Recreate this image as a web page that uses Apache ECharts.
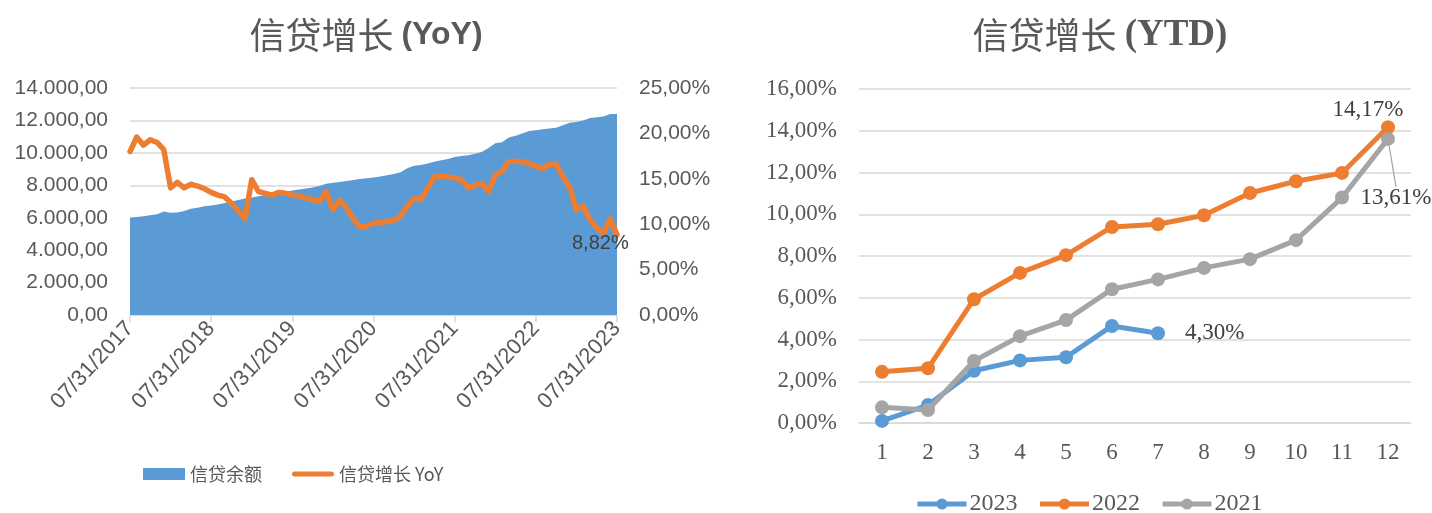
<!DOCTYPE html>
<html>
<head>
<meta charset="utf-8">
<script src="https://cdn.jsdelivr.net/npm/echarts@6/dist/echarts.min.js"></script>
<style>html,body{margin:0;padding:0;background:#fff}#c{width:1432px;height:513px}</style>
</head>
<body>
<div id="c"></div>
<script>
// ---- Left chart data (monthly, 07/2017 .. 07/2023) ----
const startYear = 2017, startMonth = 7, monthCount = 73;
const balance = [6000,6040,6090,6150,6220,6380,6300,6320,6420,6550,6620,6700,
  6750,6820,6900,7000,7100,7180,7250,7330,7400,7470,7530,7600,
  7680,7740,7800,7870,7960,8100,8150,8200,8260,8320,8380,8440,
  8480,8540,8620,8700,8800,9050,9200,9250,9350,9450,9550,9620,
  9750,9800,9850,9950,10050,10300,10600,10650,10950,11050,11200,11350,
  11400,11450,11500,11550,11700,11850,11900,12000,12150,12200,12250,12400,
  12400];
const yoy = [18.0,19.6,18.7,19.3,19.0,18.2,14.0,14.6,14.0,14.4,14.2,13.9,
  13.5,13.2,13.0,12.3,11.5,10.6,14.9,13.6,13.4,13.2,13.5,13.4,
  13.2,13.1,12.9,12.7,12.5,13.6,11.6,12.6,11.8,10.6,9.7,9.8,
  10.1,10.2,10.3,10.4,10.9,12.0,12.8,12.7,14.0,15.2,15.3,15.2,
  15.1,14.9,14.0,14.3,14.5,13.6,15.4,15.8,16.9,16.9,16.9,16.7,
  16.4,16.15,16.6,16.6,15.2,14.1,11.6,12.0,10.5,9.6,9.0,10.6,
  8.82];
const leftNames = ['信贷余额', '信贷增长 YoY'];

// ---- Right chart data ----
const ytdMonths = ['1','2','3','4','5','6','7','8','9','10','11','12'];
const ytd2023 = [0.10,0.86,2.50,3.00,3.15,4.65,4.30];
const ytd2022 = [2.45,2.62,5.93,7.19,8.04,9.39,9.52,9.95,11.02,11.58,11.98,14.17];
const ytd2021 = [0.75,0.62,2.97,4.16,4.93,6.41,6.88,7.43,7.85,8.76,10.80,13.61];
const ytdNames = ['2023','2022','2021'];

// ---- helpers ----
const dates = [];
for (let i = 0; i < monthCount; i++) {
  const m0 = startMonth - 1 + i;
  const y = startYear + Math.floor(m0 / 12);
  const m = m0 % 12 + 1;
  const d = new Date(y, m, 0).getDate();
  dates.push(String(m).padStart(2,'0') + '/' + String(d).padStart(2,'0') + '/' + y);
}
function fmtNum(v, dec) {
  const s = v.toFixed(dec);
  let [ip, fp] = s.split('.');
  ip = ip.replace(/\B(?=(\d{3})+(?!\d))/g, '.');
  return fp ? ip + ',' + fp : ip;
}
function pct(v) { return fmtNum(v, 2) + '%'; }

const SANS = "'Liberation Sans', Arial, sans-serif";
const SERIF = "'Liberation Serif', 'Times New Roman', serif";
const CJK = "'Noto Sans CJK SC', sans-serif";
const AX = '#595959';
const GRID = '#d9d9d9';
const BLUE = '#5B9BD5', ORANGE = '#ED7D31', GRAY = '#A5A5A5';
const LINE_ICON = 'path://M0,0M2.5,3.5L39.5,3.5A2.5,2.5,0,0,1,39.5,8.5L2.5,8.5A2.5,2.5,0,0,1,2.5,3.5ZM42,12';

function labelled(arr, idx, label) {
  return arr.map((v, i) => i === idx ? { value: v, label: label } : v);
}

const chart = echarts.init(document.getElementById('c'), null, { renderer: 'canvas' });
const option = {
  animation: false,
  backgroundColor: '#fff',
  title: [
    {
      text: '{c|信贷增长 }{l|(YoY)}',
      left: 361, top: 12, textAlign: 'center',
      textStyle: {
        rich: {
          c: { fontFamily: CJK, fontSize: 36, color: AX, fontWeight: 'normal' },
          l: { fontFamily: SANS, fontSize: 32, color: AX, fontWeight: 'bold' }
        }
      }
    },
    {
      text: '{c|信贷增长 }{l|(YTD)}',
      left: 1095, top: 12, textAlign: 'center',
      textStyle: {
        rich: {
          c: { fontFamily: CJK, fontSize: 36, color: AX, fontWeight: 'normal' },
          l: { fontFamily: SERIF, fontSize: 37, color: AX, fontWeight: 'bold' }
        }
      }
    }
  ],
  legend: [
    {
      data: [{ name: leftNames[0], icon: 'rect' }, { name: leftNames[1], icon: LINE_ICON }],
      left: 143, top: 465, padding: 0, itemWidth: 42, itemHeight: 12, itemGap: 30,
      textStyle: { fontFamily: CJK, fontSize: 18, color: AX }
    },
    {
      data: ytdNames,
      left: 910, top: 487, itemWidth: 49, itemHeight: 14, itemGap: 20,
      lineStyle: { width: 5 },
      textStyle: { fontFamily: SERIF, fontSize: 24, color: AX, padding: [0,0,0,-2] }
    }
  ],
  grid: [
    { left: 130, top: 88, width: 487, height: 227, containLabel: false },
    { left: 859, top: 89, width: 552, height: 334, containLabel: false }
  ],
  xAxis: [
    {
      gridIndex: 0, type: 'category', data: dates, boundaryGap: false,
      axisLine: { show: true, lineStyle: { color: GRID, width: 1 } },
      axisTick: { show: true, interval: 11, length: 7, lineStyle: { color: GRID, width: 1.5 } },
      axisLabel: { interval: 11, rotate: 47, margin: 10, fontFamily: SANS, fontSize: 22, color: AX },
      splitLine: { show: false }
    },
    {
      gridIndex: 1, type: 'category', data: ytdMonths, boundaryGap: true,
      axisLine: { show: true, lineStyle: { color: GRID, width: 1.5 } },
      axisTick: { show: false },
      axisLabel: { margin: 18, fontFamily: SERIF, fontSize: 23, color: AX },
      splitLine: { show: false }
    }
  ],
  yAxis: [
    {
      gridIndex: 0, type: 'value', min: 0, max: 14000, interval: 2000,
      axisLine: { show: false }, axisTick: { show: false },
      axisLabel: { margin: 22, fontFamily: SANS, fontSize: 21, color: AX, formatter: v => fmtNum(v, 2) },
      splitLine: { lineStyle: { color: GRID, width: 1.5 } }
    },
    {
      gridIndex: 0, type: 'value', min: 0, max: 25, interval: 5, position: 'right',
      axisLine: { show: false }, axisTick: { show: false },
      axisLabel: { margin: 22, fontFamily: SANS, fontSize: 21, color: AX, formatter: v => pct(v) },
      splitLine: { show: false }
    },
    {
      gridIndex: 1, type: 'value', min: 0, max: 16, interval: 2,
      axisLine: { show: false }, axisTick: { show: false },
      axisLabel: { margin: 22, fontFamily: SERIF, fontSize: 23, color: AX, formatter: v => pct(v) },
      splitLine: { lineStyle: { color: GRID, width: 1.5 } }
    }
  ],
  series: [
    {
      name: leftNames[0], type: 'line', xAxisIndex: 0, yAxisIndex: 0,
      data: balance, symbol: 'none', smooth: false,
      lineStyle: { width: 0, color: BLUE }, itemStyle: { color: BLUE },
      areaStyle: { color: BLUE, opacity: 1 }, z: 1
    },
    {
      name: leftNames[1], type: 'line', xAxisIndex: 0, yAxisIndex: 1,
      data: yoy, symbol: 'none',
      lineStyle: { width: 5.5, color: ORANGE, join: 'round', cap: 'round' },
      itemStyle: { color: ORANGE }, z: 3,
      endLabel: {
        show: true, offset: [-53, 9],
        formatter: p => pct(p.value), fontFamily: SANS, fontSize: 20, color: '#404040'
      }
    },
    {
      name: ytdNames[0], type: 'line', xAxisIndex: 1, yAxisIndex: 2,
      data: labelled(ytd2023, 6, {
        show: true, position: 'right', distance: 20,
        formatter: p => pct(p.value), fontFamily: SERIF, fontSize: 23, color: '#404040'
      }),
      symbol: 'circle', symbolSize: 14,
      lineStyle: { width: 5, color: BLUE }, itemStyle: { color: BLUE }, z: 3
    },
    {
      name: ytdNames[1], type: 'line', xAxisIndex: 1, yAxisIndex: 2,
      data: labelled(ytd2022, 11, {
        show: true, position: 'top', offset: [-20, 6],
        formatter: p => pct(p.value), fontFamily: SERIF, fontSize: 23, color: '#404040'
      }),
      symbol: 'circle', symbolSize: 14,
      lineStyle: { width: 5, color: ORANGE }, itemStyle: { color: ORANGE }, z: 4
    },
    {
      name: ytdNames[2], type: 'line', xAxisIndex: 1, yAxisIndex: 2,
      data: labelled(ytd2021, 11, {
        show: true, position: 'bottom',
        formatter: p => pct(p.value), fontFamily: SERIF, fontSize: 23, color: '#404040'
      }),
      labelLayout: { dx: 8, dy: 36 },
      labelLine: { show: true, lineStyle: { color: GRAY, width: 1.2 } },
      symbol: 'circle', symbolSize: 14,
      lineStyle: { width: 5, color: GRAY }, itemStyle: { color: GRAY }, z: 5
    }
  ]
};
chart.setOption(option);
</script>
</body>
</html>
